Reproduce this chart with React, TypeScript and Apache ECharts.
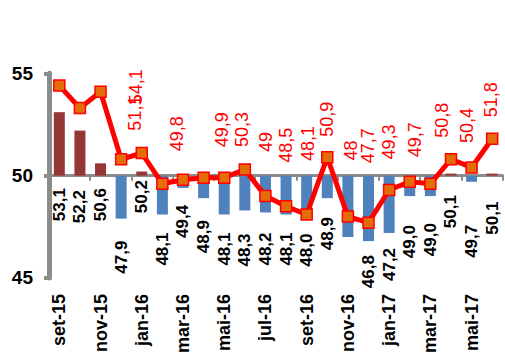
import React, { useEffect, useRef } from "react";
import * as echarts from "echarts";

const categories = [
  "set-15", "out-15", "nov-15", "dez-15", "jan-16", "fev-16", "mar-16", "abr-16",
  "mai-16", "jun-16", "jul-16", "ago-16", "set-16", "out-16", "nov-16", "dez-16",
  "jan-17", "fev-17", "mar-17", "abr-17", "mai-17", "jun-17",
];

// bar series (shown as deviation from 50)
const barValues = [
  53.1, 52.2, 50.6, 47.9, 50.2, 48.1, 49.4, 48.9, 48.1, 48.3, 48.2, 48.1, 48.0,
  48.9, 47.0, 46.8, 47.2, 49.0, 49.0, 50.1, 49.7, 50.1,
];

// line series
const lineValues = [
  54.4, 53.3, 54.1, 50.8, 51.1, 49.6, 49.8, 49.9, 49.9, 50.3, 49.0, 48.5, 48.1,
  50.9, 48.0, 47.7, 49.3, 49.7, 49.6, 50.8, 50.4, 51.8,
];

const yTicks = { min: 45, max: 55, interval: 5 };
const baseline = 50;

// label styling (gaps / offsets in px, null = label hidden)
const barLabelGap: (number | null)[] = [
  12.5, 14.5, 12.5, 22, 4.5, 18, 17, 22, 18, 23, 20, 18, 17, 19, null, 14, 15, 29,
  27, 19.5, 43, 26,
];
const lineLabelOffset: ([number, number] | null)[] = [
  null, null, [35, -5], null, [-7, -40], null, [-6, -46], null, [-2, -48],
  [-3, -40], [1, -54], [0, -61], [1, -71], [0, -38], [3, -66], [-1, -77],
  [0, -48], [5, -42], null, [-9, -39], [-5, -42], [-1, -39],
];

const FONT = "'Liberation Sans', Arial, sans-serif";
const fmt = (v: number, fixed: boolean) =>
  (fixed ? v.toFixed(1) : String(v)).replace(".", ",");

export default function App() {
  const ref = useRef<HTMLDivElement>(null);
  useEffect(() => {
    if (!ref.current) return;
    const chart = echarts.init(ref.current, undefined, { renderer: "svg" });
    const barData = barValues.map((v, i) => {
      const gap = barLabelGap[i];
      return {
        value: +(v - baseline).toFixed(2),
        itemStyle: { color: v >= baseline ? "#953735" : "#4F81BD" },
        label:
          gap === null
            ? { show: false }
            : { show: true, distance: gap },
      };
    });
    const lineData = lineValues.map((v, i) => {
      const off = lineLabelOffset[i];
      return {
        value: v,
        label:
          off === null
            ? { show: false }
            : { show: true, offset: [-off[1], off[0]] },
      };
    });
    chart.setOption({
      animation: false,
      grid: { left: 49, right: 2.5, top: 73.3, bottom: 77.7, containLabel: false },
      xAxis: [
        {
          type: "category",
          data: categories,
          position: "bottom",
          boundaryGap: true,
          axisLine: {
            show: true,
            onZero: true,
            onZeroAxisIndex: 1,
            lineStyle: { color: "#8C8C8C", width: 3 },
          },
          axisTick: {
            show: true,
            interval: 1,
            length: 5,
            lineStyle: { color: "#8C8C8C", width: 2 },
          },
          axisLabel: { show: false },
          splitLine: { show: false },
        },
        {
          type: "category",
          data: categories,
          position: "bottom",
          boundaryGap: true,
          axisLine: { show: false, onZero: false },
          axisTick: { show: false },
          axisLabel: {
            show: true,
            interval: 1,
            rotate: 90,
            margin: 16,
            color: "#000",
            fontFamily: FONT,
            fontWeight: "bold",
            fontSize: 18,
          },
          splitLine: { show: false },
        },
      ],
      yAxis: [
        {
          type: "value",
          min: yTicks.min,
          max: yTicks.max,
          interval: yTicks.interval,
          position: "left",
          axisLine: { show: true, lineStyle: { color: "#8C8C8C", width: 5 } },
          axisTick: {
            show: true,
            length: 5,
            lineStyle: { color: "#8C8C8C", width: 4 },
          },
          axisLabel: {
            margin: 16,
            color: "#000",
            fontFamily: FONT,
            fontWeight: "bold",
            fontSize: 19,
          },
          splitLine: { show: false },
        },
        {
          type: "value",
          min: yTicks.min - baseline,
          max: yTicks.max - baseline,
          show: false,
          splitLine: { show: false },
        },
      ],
      series: [
        {
          type: "bar",
          xAxisIndex: 0,
          yAxisIndex: 1,
          data: barData,
          barWidth: 11,
          z: 2,
          label: {
            show: true,
            position: "bottom",
            rotate: 90,
            align: "right",
            verticalAlign: "middle",
            color: "#000",
            fontFamily: FONT,
            fontWeight: "bold",
            fontSize: 17,
            formatter: (p: any) => fmt(barValues[p.dataIndex], true),
          },
        },
        {
          type: "line",
          xAxisIndex: 0,
          yAxisIndex: 0,
          data: lineData,
          z: 5,
          symbol: "rect",
          symbolSize: 11,
          lineStyle: { color: "#FF0000", width: 5 },
          itemStyle: { color: "#E46C0A", borderColor: "#FF0000", borderWidth: 1.5 },
          label: {
            show: true,
            position: "inside",
            rotate: 90,
            align: "center",
            verticalAlign: "middle",
            color: "#FF0000",
            fontFamily: FONT,
            fontSize: 18,
            formatter: (p: any) => fmt(lineValues[p.dataIndex], false),
          },
        },
      ],
    });
    return () => chart.dispose();
  }, []);
  return (
    <div
      ref={ref}
      style={{ position: "fixed", left: 0, top: 0, width: 505, height: 356, background: "#fff" }}
    />
  );
}
